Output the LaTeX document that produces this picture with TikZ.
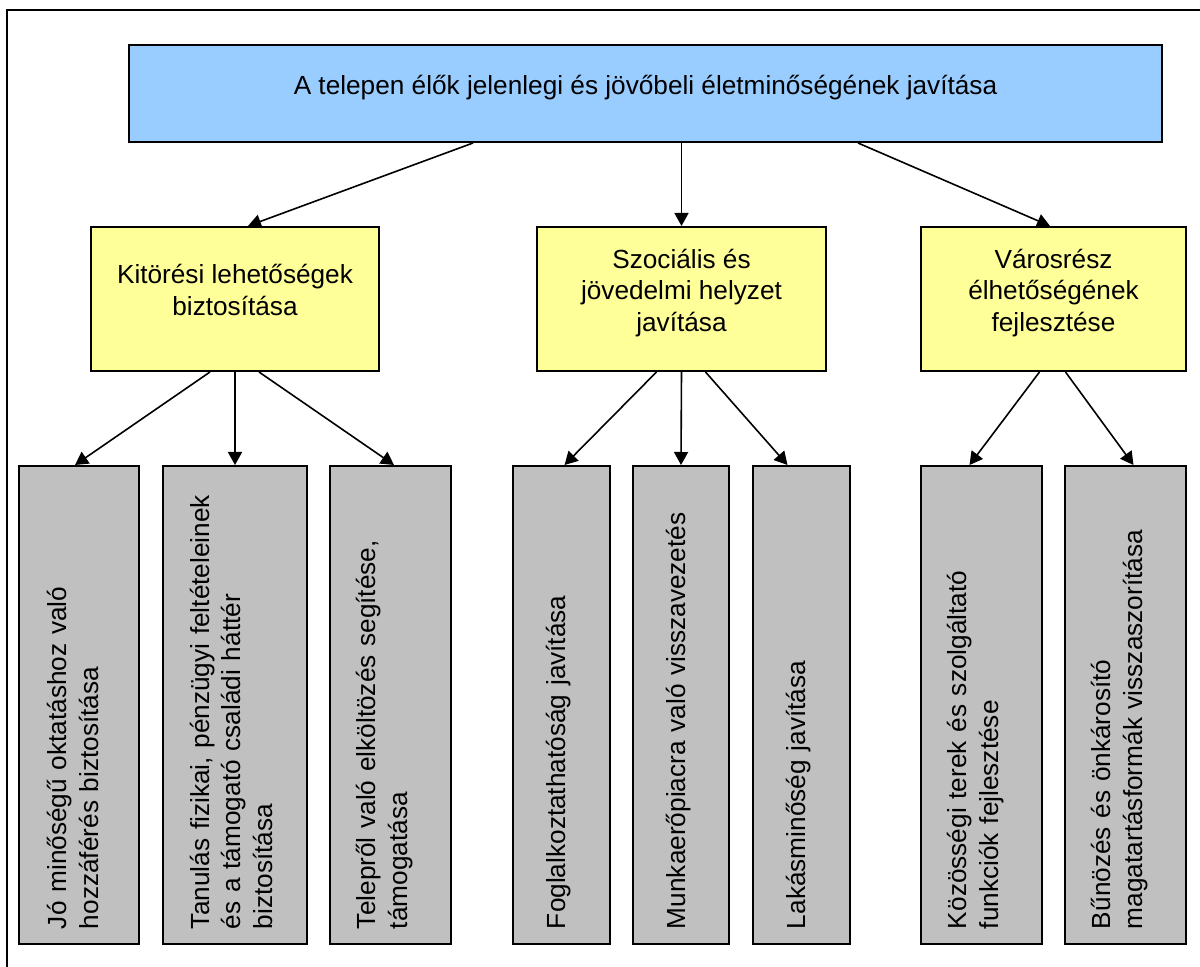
\documentclass[tikz,border=0pt]{standalone}
\usepackage{fontspec}
\setmainfont{Liberation Sans}
\usetikzlibrary{arrows.meta}
\definecolor{goalblue}{HTML}{99CCFF}
\definecolor{aimyellow}{HTML}{FFFF99}
\definecolor{taskgray}{HTML}{C0C0C0}
\tikzset{
  goal/.style={draw, line width=1pt, fill=goalblue, minimum width=516.5pt, minimum height=48.5pt, inner sep=0pt, text depth=9pt},
  aim/.style={draw, line width=1pt, fill=aimyellow, minimum height=72pt, align=center, inner sep=0pt, text depth=9pt},
  task/.style={draw, line width=1pt, fill=taskgray, minimum height=239pt, inner sep=0pt},
  tasktext/.style={rotate=90, text width=224pt, align=left, inner sep=0pt},
  link/.style={-{Triangle[length=6.5pt,width=7pt]}, line width=0.8pt},
}

\begin{document}
\begin{tikzpicture}[x=0.5pt,y=-0.5pt,font=\fontsize{13.1pt}{15.75pt}\selectfont]
\useasboundingbox (0,0) rectangle (1200,967);

% to draw the frame
\draw [line width=1pt] (7,967) |- (1200,10);

% to write main goal
\node [goal] (goal) at (645.5,93.5) {A telepen élők jelenlegi és jövőbeli életminőségének javítása};

% to write aims
\node [aim, minimum width=144pt] (kitores) at (235,299) {Kitörési lehetőségek\\biztosítása};
\node [aim, minimum width=144.5pt] (szocialis) at (681.5,299) {Szociális és\\jövedelmi helyzet\\javítása};
\node [aim, minimum width=132.5pt] (varosresz) at (1053.5,299) {Városrész\\élhetőségének\\fejlesztése};

% to draw gray boxes
\node [task, minimum width=60pt] (oktatas) at (79,705) {};
\node [task, minimum width=72pt] (tanulas) at (235,705) {};
\node [task, minimum width=60.5pt] (elkoltozes) at (390.5,705) {};
\node [task, minimum width=48.5pt] (foglalkoztatas) at (561.5,705) {};
\node [task, minimum width=48pt] (munkaeropiac) at (681,705) {};
\node [task, minimum width=48.5pt] (lakas) at (801.5,705) {};
\node [task, minimum width=60.5pt] (kozossegi) at (981.5,705) {};
\node [task, minimum width=60.5pt] (bunozes) at (1125.5,705) {};

% to write texts of gray boxes
\node [tasktext] at ([xshift=-3pt]oktatas.center) {Jó minőségű oktatáshoz való\\hozzáférés biztosítása};
\node [tasktext] at ([xshift=-2pt]tanulas.center) {Tanulás fizikai, pénzügyi feltételeinek\\és a támogató családi háttér\\biztosítása};
\node [tasktext] at ([xshift=-3pt]elkoltozes.center) {Telepről való elköltözés segítése,\\támogatása};
\node [tasktext] at ([xshift=-1.5pt]foglalkoztatas.center) {Foglalkoztathatóság javítása};
\node [tasktext] at ([xshift=-1pt]munkaeropiac.center) {Munkaerőpiacra való visszavezetés};
\node [tasktext] at ([xshift=-1.5pt]lakas.center) {Lakásminőség javítása};
\node [tasktext] at ([xshift=-3pt]kozossegi.center) {Közösségi terek és szolgáltató\\funkciók fejlesztése};
\node [tasktext] at ([xshift=-3pt]bunozes.center) {Bűnözés és önkárosító\\magatartásformák visszaszorítása};

% to draw arrows
\draw [link] ([xshift=-86.25pt]goal.south) -- ([xshift=6.5pt]kitores.north);
\draw [link] ([xshift=18pt]goal.south) -- (szocialis.north);
\draw [link] ([xshift=106.25pt]goal.south) -- ([xshift=-1.75pt]varosresz.north);

\draw [link] ([xshift=-12.5pt]kitores.south) -- ([xshift=-2pt]oktatas.north);
\draw [link] (kitores.south) -- (tanulas.north);
\draw [link] ([xshift=12pt]kitores.south) -- ([xshift=1.75pt]elkoltozes.north);

\draw [link] ([xshift=-12.5pt]szocialis.south) -- ([xshift=1.5pt]foglalkoztatas.north);
\draw [link] (szocialis.south) -- (munkaeropiac.north);
\draw [link] ([xshift=12pt]szocialis.south) -- ([xshift=-7pt]lakas.north);

\draw [link] ([xshift=-7pt]varosresz.south) -- ([xshift=-6pt]kozossegi.north);
\draw [link] ([xshift=6pt]varosresz.south) -- ([xshift=4pt]bunozes.north);
\end{tikzpicture}
\end{document}
